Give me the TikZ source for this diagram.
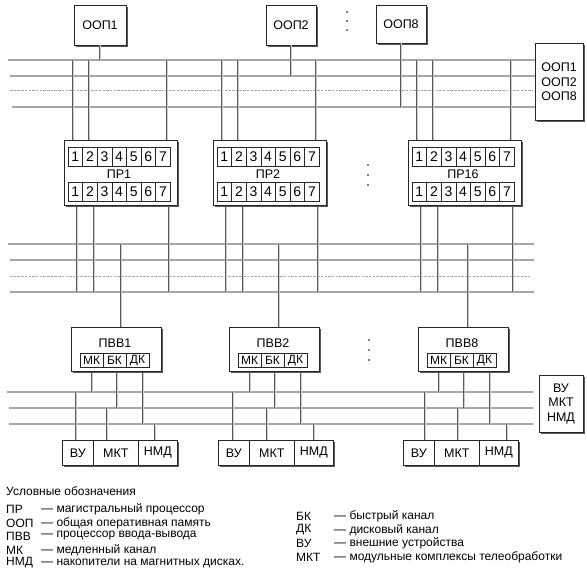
\documentclass[tikz,border=0pt]{standalone}
\usepackage{fontspec}
\setmainfont{Liberation Sans}
\usetikzlibrary{shadows}
\begin{document}
\begin{tikzpicture}[x=1pt,y=-1pt,
  box/.style={draw=black!85, line width=0.6pt, fill=white, inner sep=0pt, align=center,
    font=\fontsize{12.5}{14.5}\selectfont,
    drop shadow={shadow xshift=1.6pt, shadow yshift=-1.6pt, fill=black!65, opacity=1}},
  cell/.style={draw=black!85, line width=0.5pt, inner sep=0pt, fill=white},
  bus/.style={draw=black!70, line width=0.6pt, double=black!35, double distance=1.1pt},
  dbus/.style={draw=black!35, line width=1pt, dash pattern=on 2.5pt off 1.2pt},
  vline/.style={draw=black!65, line width=0.45pt, double=black!20, double distance=0.9pt},
  lbl/.style={font=\fontsize{12.5}{14}\selectfont, inner sep=0pt},
  dig/.style={font=\fontsize{14}{15}\selectfont},
  ch/.style={font=\fontsize{12}{14}\selectfont},
  leg/.style={font=\fontsize{12}{14}\selectfont, anchor=west, inner sep=0pt},
  dotn/.style={fill=black, circle, inner sep=0pt, minimum size=1.8pt}
]
\useasboundingbox (0,0) rectangle (587,578);

% ---------- bus coordinates ----------
\coordinate (A1s) at (8,60);   \coordinate (A1e) at (535,60);
\coordinate (A2s) at (10,76);  \coordinate (A2e) at (535,76);
\coordinate (A3s) at (10,91);  \coordinate (A3e) at (533,91);
\coordinate (A4s) at (12,107); \coordinate (A4e) at (535,107);
\coordinate (M1s) at (8,244);  \coordinate (M1e) at (534,244);
\coordinate (M2s) at (10,260); \coordinate (M2e) at (534,260);
\coordinate (M3s) at (10,276); \coordinate (M3e) at (530,276);
\coordinate (M4s) at (10,292); \coordinate (M4e) at (534,292);
\coordinate (L1s) at (7,392);  \coordinate (L1e) at (533,392);
\coordinate (L2s) at (9,408);  \coordinate (L2e) at (533,408);
\coordinate (L3s) at (9,424);  \coordinate (L3e) at (533,424);

\draw[bus] (A1s) -- (A1e);
\draw[bus] (A2s) -- (A2e);
\draw[dbus] (A3s) -- (A3e);
\draw[bus] (A4s) -- (A4e);
\draw[bus] (M1s) -- (M1e);
\draw[bus] (M2s) -- (M2e);
\draw[dbus] (M3s) -- (M3e);
\draw[bus] (M4s) -- (M4e);
\draw[bus] (L1s) -- (L1e);
\draw[bus] (L2s) -- (L2e);
\draw[bus] (L3s) -- (L3e);

% ---------- common memory modules ----------
\node[box, minimum width=52, minimum height=40] (oop1) at (100,25) {ООП1};
\node[box, minimum width=50, minimum height=40] (oop2) at (291,25) {ООП2};
\node[box, minimum width=50, minimum height=38] (oop8) at (401,24) {ООП8};
\node[box, minimum width=48, minimum height=77] (roop) at (559,82) {ООП1\\ООП2\\ООП8};
\draw[vline] (oop1.south) -- (oop1.south |- A1s);
\draw[vline] (oop2.south) -- (oop2.south |- A2s);
\draw[vline] (oop8.south) -- (oop8.south |- A4s);
\node[dotn] (d1) at (347,12) {};
\node[dotn] (d2) at (347,21) {};
\node[dotn] (d3) at (347,30) {};

% ---------- main processors ----------
\foreach \n/\X/\lab in {pr1/64/ПР1, pr2/213/ПР2, pr16/408/ПР16}{
  \coordinate (\n-u1) at (\X+9,140);
  \coordinate (\n-u2) at (\X+25,140);
  \coordinate (\n-u3) at (\X+103,140);
  \coordinate (\n-b1) at (\X+13,205);
  \coordinate (\n-b2) at (\X+30,205);
  \coordinate (\n-b3) at (\X+105,205);
  \draw[vline] (\n-u1 |- A1s) -- (\n-u1);
  \draw[vline] (\n-u2 |- A1s) -- (\n-u2);
  \draw[vline] (\n-u3 |- A1s) -- (\n-u3);
  \draw[vline] (\n-b1) -- (\n-b1 |- M4s);
  \draw[vline] (\n-b2) -- (\n-b2 |- M4s);
  \draw[vline] (\n-b3) -- (\n-b3 |- M4s);
  \node[box, minimum width=113, minimum height=65, anchor=north west] (\n) at (\X,140) {};
  \node[lbl] (\n-lab) at (\X+55,174) {\lab};
  \foreach \i in {1,...,7}{
    \node[cell, dig, minimum width=14.6, minimum height=19] (\n-t\i) at ({\X+4+(\i-0.5)*14.6},156.5) {\i};
    \node[cell, dig, minimum width=14.6, minimum height=19] (\n-s\i) at ({\X+4+(\i-0.5)*14.6},191.5) {\i};
  }
}
\node[dotn] (d4) at (368,165) {};
\node[dotn] (d5) at (368,175) {};
\node[dotn] (d6) at (368,185) {};

% ---------- I/O processors ----------
\foreach \n/\X/\lab in {pvv1/71/ПВВ1, pvv2/229/ПВВ2, pvv8/418/ПВВ8}{
  \coordinate (\n-u) at (\X+50,327);
  \coordinate (\n-p1) at (\X+21,371);
  \coordinate (\n-p2) at (\X+46,371);
  \coordinate (\n-p3) at (\X+72,371);
  \draw[vline] (\n-u |- M1s) -- (\n-u);
  \draw[vline] (\n-p1) -- (\n-p1 |- L1s);
  \draw[vline] (\n-p2) -- (\n-p2 |- L2s);
  \draw[vline] (\n-p3) -- (\n-p3 |- L3s);
  \node[box, minimum width=90, minimum height=44, anchor=north west] (\n) at (\X,327) {};
  \node[lbl] (\n-lab) at (\X+44,343) {\lab};
  \node[cell, ch, minimum width=23, minimum height=14] (\n-mk) at (\X+20.5,360.5) {МК};
  \node[cell, ch, minimum width=23, minimum height=14] (\n-bk) at (\X+43.5,360.5) {БК};
  \node[cell, ch, minimum width=23, minimum height=14] (\n-dk) at (\X+66.5,360.5) {ДК};
}
\node[dotn] (d7) at (369,340) {};
\node[dotn] (d8) at (369,350) {};
\node[dotn] (d9) at (369,360) {};

% ---------- devices ----------
\foreach \g/\D/\va/\vb/\vc in {1/62/76/107/155, 2/218/233/267/314, 8/403/425/458/507}{
  \coordinate (vu\g-p) at (\va,440);
  \coordinate (mkt\g-p) at (\vb,440);
  \coordinate (nmd\g-p) at (\vc,440);
  \draw[vline] (vu\g-p |- L1s) -- (vu\g-p);
  \draw[vline] (mkt\g-p |- L2s) -- (mkt\g-p);
  \draw[vline] (nmd\g-p |- L3s) -- (nmd\g-p);
  \node[box, minimum width=31, minimum height=25, anchor=north west] (vu\g) at (\D,440) {ВУ};
  \node[box, minimum width=45, minimum height=25, anchor=north west] (mkt\g) at (\D+31,440) {МКТ};
  \node[box, minimum width=39, minimum height=25, anchor=north west] (nmd\g) at (\D+76,440) {НМД};
}
\node[box, minimum width=44, minimum height=57] (rdev) at (561,403.5) {ВУ\\МКТ\\НМД};

% ---------- legend ----------
\node[leg] (lg) at (6,491) {Условные обозначения};
\node[leg] (k1) at (6,509) {ПР};   \node[leg] (v1) at (41,509) {— магистральный процессор};
\node[leg] (k2) at (6,523) {ООП};  \node[leg] (v2) at (41,523) {— общая оперативная память};
\node[leg] (k3) at (6,536) {ПВВ};  \node[leg] (v3) at (41,536) {— процессор ввода-вывода};
\node[leg] (k4) at (6,550) {МК};   \node[leg] (v4) at (41,550) {— медленный канал};
\node[leg] (k5) at (6,563) {НМД};  \node[leg] (v5) at (41,563) {— накопители на магнитных дисках.};
\node[leg] (k6) at (296,516) {БК};  \node[leg] (v6) at (334,516) {— быстрый канал};
\node[leg] (k7) at (296,530) {ДК};  \node[leg] (v7) at (334,530) {— дисковый канал};
\node[leg] (k8) at (296,543) {ВУ};  \node[leg] (v8) at (334,543) {— внешние устройства};
\node[leg] (k9) at (296,557) {МКТ}; \node[leg] (v9) at (334,557) {— модульные комплексы телеобработки};
\end{tikzpicture}
\end{document}
